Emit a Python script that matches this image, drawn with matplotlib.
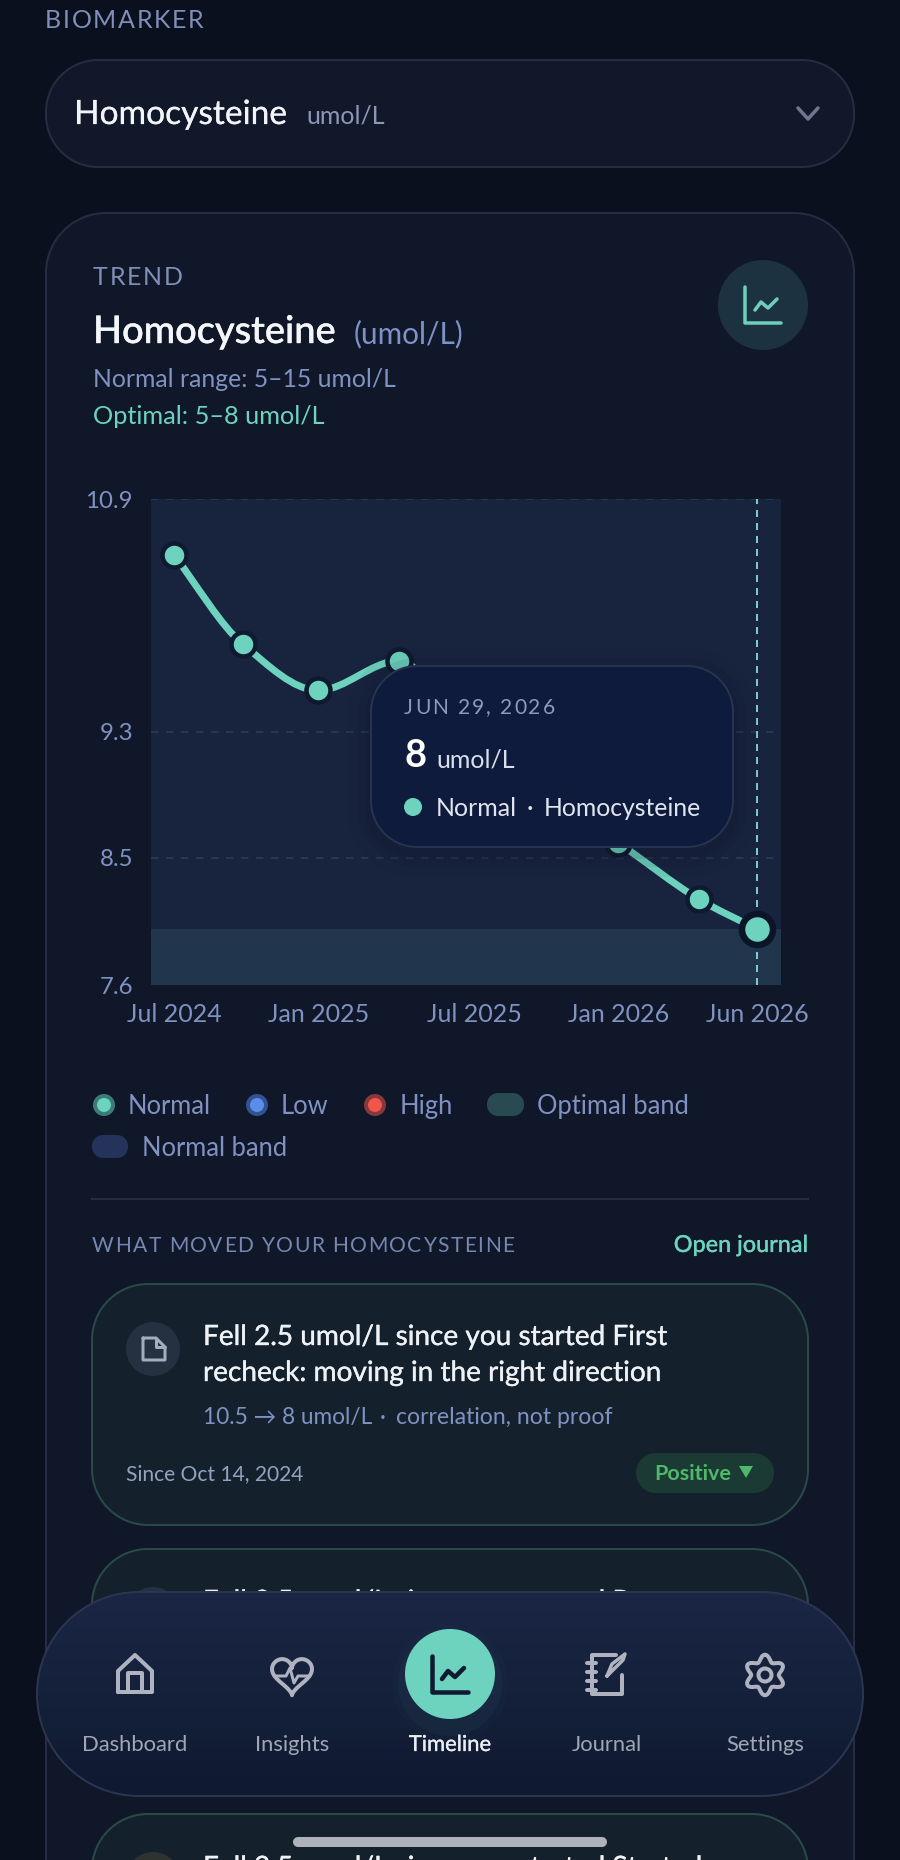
import numpy as np
import matplotlib
matplotlib.use('Agg')
import matplotlib.pyplot as plt
import matplotlib.dates as mdates
import matplotlib.patheffects as pe
from matplotlib.patches import Circle, PathPatch, Polygon
from matplotlib.path import Path

plt.rcParams['font.family'] = ['Lato', 'DejaVu Sans']

W, H = 900, 1860

# chart data
dates = ['2024-07-01', '2024-09-25', '2024-12-28', '2025-04-08',
         '2025-07-11', '2026-01-07', '2026-04-18', '2026-06-29']
values = [10.52, 9.92, 9.61, 9.81, 9.20, 8.58, 8.20, 8.0]
y_ticks = [10.9, 9.33, 8.48, 7.62]
y_tick_labels = ['10.9', '9.3', '8.5', '7.6']
x_tick_index = [0, 2, 4, 5, 7]
x_tick_labels = ['Jul 2024', 'Jan 2025', 'Jul 2025', 'Jan 2026', 'Jun 2026']
normal_band = (5, 15)
optimal_band = (5, 8)
y_limits = (7.62, 10.9)
x_pad_days = (29, 30)

nav_labels = ['Dashboard', 'Insights', 'Timeline', 'Journal', 'Settings']

TEAL = '#6DD3BE'
BLUE_TXT = '#8092C2'
PAGE = '#0B101E'
CARD = '#101729'
EDGE = '#262D42'


def px(size):
    return size * 0.72


def rbox(ax, x0, y0, x1, y1, r, fc, ec='none', lw=2, **kw):
    # round corners with real circular arcs
    k = r * (1 - 0.5523)
    verts = [(x0 + r, y0), (x1 - r, y0),
             (x1 - k, y0), (x1, y0 + k), (x1, y0 + r),
             (x1, y1 - r),
             (x1, y1 - k), (x1 - k, y1), (x1 - r, y1),
             (x0 + r, y1),
             (x0 + k, y1), (x0, y1 - k), (x0, y1 - r),
             (x0, y0 + r),
             (x0, y0 + k), (x0 + k, y0), (x0 + r, y0), (x0 + r, y0)]
    C4, LN = Path.CURVE4, Path.LINETO
    codes = [Path.MOVETO, LN, C4, C4, C4, LN, C4, C4, C4, LN, C4, C4, C4, LN, C4, C4, C4,
             Path.CLOSEPOLY]
    p = PathPatch(Path(verts, codes), fc=fc, ec=ec, lw=px(lw), **kw)
    ax.add_patch(p)
    return p


def txt(ax, x, y, s, size, color, ha='left', weight='normal', heavy=0, **kw):
    t = ax.text(x, y, s, fontsize=px(size), color=color, ha=ha, va='baseline',
                fontweight=weight, **kw)
    if heavy:
        t.set_path_effects([pe.withStroke(linewidth=px(heavy), foreground=color)])
    return t


def spaced(ax, x, y, s, size, color, gap):
    # matplotlib has no letter spacing, place the characters one by one
    r = ax.figure.canvas.get_renderer()
    bar = ax.text(0, 0, '|', fontsize=px(size))
    prop = bar.get_fontproperties()
    bw = r.get_text_width_height_descent('|', prop, False)[0]
    bar.remove()
    for i, c in enumerate(s):
        w = r.get_text_width_height_descent(s[:i] + '|', prop, False)[0] - bw
        txt(ax, x + w + gap * i, y, c, size, color)


def stroke(ax, xs, ys, color, lw, **kw):
    ax.plot(xs, ys, color=color, lw=px(lw), solid_capstyle='round',
            solid_joinstyle='round', **kw)


def chart_icon(ax, x, y, color, lw):
    stroke(ax, [x - 18, x - 18, x + 18], [y - 18, y + 18, y + 18], color, lw)
    stroke(ax, [x - 8, x - 2, x + 5, x + 14], [y + 5, y - 3, y + 3, y - 6], color, lw)


def smooth_path(x, y):
    # monotone cubic through the points
    x, y = np.asarray(x), np.asarray(y)
    s = np.diff(y) / np.diff(x)
    m = np.zeros(len(x))
    m[0], m[-1] = s[0], s[-1]
    for i in range(1, len(x) - 1):
        if s[i - 1] * s[i] > 0:
            m[i] = 2 * s[i - 1] * s[i] / (s[i - 1] + s[i])
    verts = [(x[0], y[0])]
    codes = [Path.MOVETO]
    for i in range(len(x) - 1):
        h = (x[i + 1] - x[i]) / 3
        verts += [(x[i] + h, y[i] + m[i] * h), (x[i + 1] - h, y[i + 1] - m[i + 1] * h),
                  (x[i + 1], y[i + 1])]
        codes += [Path.CURVE4] * 3
    return Path(verts, codes)


fig = plt.figure(figsize=(W / 100, H / 100), dpi=100, facecolor=PAGE)
fig.canvas.get_renderer()


def layer(z):
    a = fig.add_axes([0, 0, 1, 1], zorder=z)
    a.set_xlim(0, W)
    a.set_ylim(H, 0)
    a.axis('off')
    return a


bg = layer(0)
top = layer(2)

# selector
spaced(bg, 45, 28, 'BIOMARKER', 25, '#7F8FB8', 1.7)
rbox(bg, 46, 60, 854, 167, 52, '#111829', EDGE)
txt(bg, 74, 124, 'Homocysteine', 33.5, '#F2F4F8', heavy=0.2)
txt(bg, 306, 124, 'umol/L', 25, '#8C97B8')
stroke(bg, [798, 808, 818], [108, 119, 108], '#6E7690', 3.5)

# main card, runs off the bottom of the page
rbox(bg, 46, 213, 854, 1960, 60, CARD, EDGE)
spaced(bg, 93, 285, 'TREND', 25, '#7F8FB8', 1.7)
txt(bg, 93, 343, 'Homocysteine', 38, '#F4F6FA', weight='medium', heavy=0.4)
txt(bg, 354, 343, '(umol/L)', 29.8, '#7F92C8')
txt(bg, 93, 387, 'Normal range: 5\u201315 umol/L', 24.8, BLUE_TXT)
txt(bg, 93, 424, 'Optimal: 5\u20138 umol/L', 25.2, TEAL)
bg.add_patch(Circle((763, 305), 45, fc='#1C3240', ec='none'))
chart_icon(bg, 763, 305, '#6DCFBC', 3.5)

# chart
ax = fig.add_axes([151 / W, 1 - 985.5 / H, 630 / W, 486.5 / H], zorder=1)
x_num = mdates.datestr2num(dates)
ax.set_xlim(x_num[0] - x_pad_days[0], x_num[-1] + x_pad_days[1])
ax.set_ylim(*y_limits)
ax.set_facecolor(CARD)
ax.axhspan(*normal_band, color='#18243E', lw=0, zorder=0)
ax.axhspan(*optimal_band, color='#21354C', lw=0, zorder=0.5)
ax.set_yticks(y_ticks, y_tick_labels)
ax.set_xticks(x_num[x_tick_index], x_tick_labels)
ax.tick_params(length=0, labelsize=px(25), labelcolor=BLUE_TXT)
ax.tick_params(axis='y', pad=px(18), labelsize=px(24))
ax.tick_params(axis='x', pad=px(18))
ax.grid(axis='y', color='#2F3B58', lw=px(1.5), linestyle=(0, (5, 5)))
ax.set_axisbelow(True)
for sp in ax.spines.values():
    sp.set_visible(False)
ax.axvline(x_num[-1], color='#7CCBC6', lw=px(2), linestyle=(0, (3.5, 3)), zorder=1)
ax.add_patch(PathPatch(smooth_path(x_num, values), fc='none', ec=TEAL, lw=px(7),
                       capstyle='round', zorder=2))
ax.plot(x_num[:-1], values[:-1], 'o', ms=px(24), mfc=TEAL, mec='#0F1A30', mew=px(4.5), zorder=3)
ax.plot(x_num[-1:], values[-1:], 'o', ms=px(31), mfc=TEAL, mec='#0C1528', mew=px(6.5), zorder=4,
        clip_on=False)

# tooltip
for grow, al in ((24, 0.05), (14, 0.07), (6, 0.09)):
    rbox(top, 371 - grow, 666 - grow + 6, 733 + grow, 847 + grow + 6, 46 + grow, '#0A1020',
         alpha=al)
rbox(top, 371, 666, 733, 847, 46, '#0E1B3C', '#27334F')
spaced(top, 404, 714, 'JUN 29, 2026', 21, '#8E9ABD', 2.0)
txt(top, 404, 767, '8', 38, '#FFFFFF', weight='bold')
txt(top, 436, 767, 'umol/L', 25, '#D8DEEA')
top.add_patch(Circle((413, 807), 9, fc=TEAL, ec='none'))
txt(top, 436, 816, 'Normal', 25, '#E0E5EF')
txt(top, 529.5, 816, '\u00b7', 25, '#E0E5EF', ha='center')
txt(top, 544, 816, 'Homocysteine', 24.8, '#E0E5EF')

# legend
for cx, ring, inner in ((104, '#3C7C78', TEAL), (257, '#34528F', '#5B8DEB'), (375, '#86383C', '#F0564A')):
    bg.add_patch(Circle((cx, 1105), 11, fc=ring, ec='none'))
    bg.add_patch(Circle((cx, 1105), 7, fc=inner, ec='none'))
rbox(bg, 487, 1093, 524, 1116, 11, '#284A50')
rbox(bg, 92, 1135, 128, 1158, 11, '#23335A')
txt(bg, 128, 1114, 'Normal', 25.5, BLUE_TXT)
txt(bg, 281, 1114, 'Low', 25.5, BLUE_TXT)
txt(bg, 400, 1114, 'High', 25.5, BLUE_TXT)
txt(bg, 537, 1114, 'Optimal band', 25.5, BLUE_TXT)
txt(bg, 142, 1156, 'Normal band', 25.5, BLUE_TXT)
bg.plot([92, 808], [1199, 1199], color=EDGE, lw=px(2))

spaced(bg, 92, 1252, 'WHAT MOVED YOUR HOMOCYSTEINE', 21, '#7688B0', 1.45)
txt(bg, 808, 1252, 'Open journal', 23.4, TEAL, ha='right', weight='medium', heavy=0.2)

# first event card
EV_FC, EV_EC = '#14212C', '#2A4A48'
rbox(bg, 92, 1284, 808, 1525, 56, EV_FC, EV_EC)
bg.add_patch(Circle((153, 1349), 27, fc='#253140', ec='none'))
doc_x = [143, 156, 165, 165, 143, 143]
doc_y = [1338, 1338, 1347, 1360, 1360, 1338]
stroke(bg, doc_x, doc_y, '#A3AEBC', 3)
stroke(bg, [156, 156, 165], [1338, 1347, 1347], '#A3AEBC', 3)
txt(bg, 203, 1345, 'Fell 2.5 umol/L since you started First', 28, '#EEF1F6', heavy=0.35)
txt(bg, 203, 1381, 'recheck: moving in the right direction', 28, '#EEF1F6', heavy=0.35)
txt(bg, 203, 1424, '10.5 \u2192 8 umol/L', 22.6, BLUE_TXT)
txt(bg, 383, 1424, '\u00b7', 22.6, BLUE_TXT, ha='center')
txt(bg, 396, 1424, 'correlation, not proof', 23, BLUE_TXT)
txt(bg, 126, 1480, 'Since Oct 14, 2024', 21, '#93A2BE')
rbox(bg, 636, 1453, 774, 1493, 20, '#1B3A33')
txt(bg, 654, 1480, 'Positive', 21.5, '#4FB86B', weight='bold')
bg.add_patch(Polygon([[739, 1466], [753, 1466], [746, 1478]], fc='#4FB86B', ec='none'))

# cards running under the nav bar
rbox(bg, 92, 1549, 808, 1790, 56, EV_FC, EV_EC)
bg.add_patch(Circle((153, 1614), 27, fc='#253140', ec='none'))
txt(bg, 203, 1610, 'Fell 2.5 umol/L since you started Rerun', 28, '#EEF1F6', heavy=0.35)
rbox(bg, 92, 1814, 808, 2055, 56, EV_FC, EV_EC)
bg.add_patch(Circle((153, 1879), 27, fc='#2E3330', ec='none'))
txt(bg, 203, 1876, 'Fell 2.5 umol/L since you started Started', 28, '#EEF1F6', heavy=0.35)

# nav bar
nav = rbox(top, 37, 1592, 863, 1796, 102, 'none', '#2B3550')
c_top, c_bot = np.array([27, 38, 69]), np.array([15, 26, 48])
grad = c_top + np.linspace(0, 1, 64)[:, None, None] * (c_bot - c_top)
im = top.imshow(grad / 255, extent=[37, 863, 1796, 1592], aspect='auto', zorder=0.5)
im.set_clip_path(nav)
top.set_xlim(0, W)
top.set_ylim(H, 0)

NAV_C = '#AEB3BF'
nav_x = [135, 292, 450, 607, 765]
for cx, lab in zip(nav_x, nav_labels):
    active = lab == 'Timeline'
    txt(top, cx, 1751, lab, 22, '#EAEDF3' if active else '#A0A6B4', ha='center',
        heavy=0.3 if active else 0)

# home icon
stroke(top, [118, 118, 135, 152, 152, 118], [1692, 1671, 1655, 1671, 1692, 1692], NAV_C, 4)
stroke(top, [128, 128, 142, 142], [1692, 1673, 1673, 1692], NAV_C, 4)

# heart icon
t = np.linspace(0, 2 * np.pi, 80)
hx = 16 * np.sin(t) ** 3
hy = 13 * np.cos(t) - 5 * np.cos(2 * t) - 2 * np.cos(3 * t) - np.cos(4 * t)
stroke(top, 292 + hx * 1.25, 1674 - hy * 1.25, NAV_C, 4)
stroke(top, [274, 286, 290, 294, 298, 310], [1676, 1676, 1668, 1683, 1676, 1676], NAV_C, 3)

# timeline button
for r, al in ((58, 0.02), (52, 0.04)):
    top.add_patch(Circle((450, 1684), r, fc=TEAL, ec='none', alpha=al))
top.add_patch(Circle((450, 1674), 45, fc=TEAL, ec='none'))
chart_icon(top, 450, 1674, '#0E1A30', 4.5)

# journal icon
stroke(top, [616, 592, 592, 622, 622], [1655, 1655, 1694, 1694, 1675], NAV_C, 4)
for yy in (1663, 1672, 1681, 1690):
    stroke(top, [587, 596], [yy, yy], NAV_C, 4)
stroke(top, [607, 612, 625, 623, 610, 607], [1676, 1664, 1654, 1660, 1673, 1676], NAV_C, 3.5)

# gear icon
a = np.linspace(0, 2 * np.pi, 180)
rad = 17 + 3.2 * np.cos(6 * a)
stroke(top, 765 + rad * np.sin(a), 1675 - rad * np.cos(a), NAV_C, 4)
top.add_patch(Circle((765, 1675), 6.5, fc='none', ec=NAV_C, lw=px(4)))

# home indicator
rbox(top, 293, 1837, 607, 1847, 5, '#AEB2BA')

fig.savefig('out.png', dpi=100, facecolor=PAGE)
